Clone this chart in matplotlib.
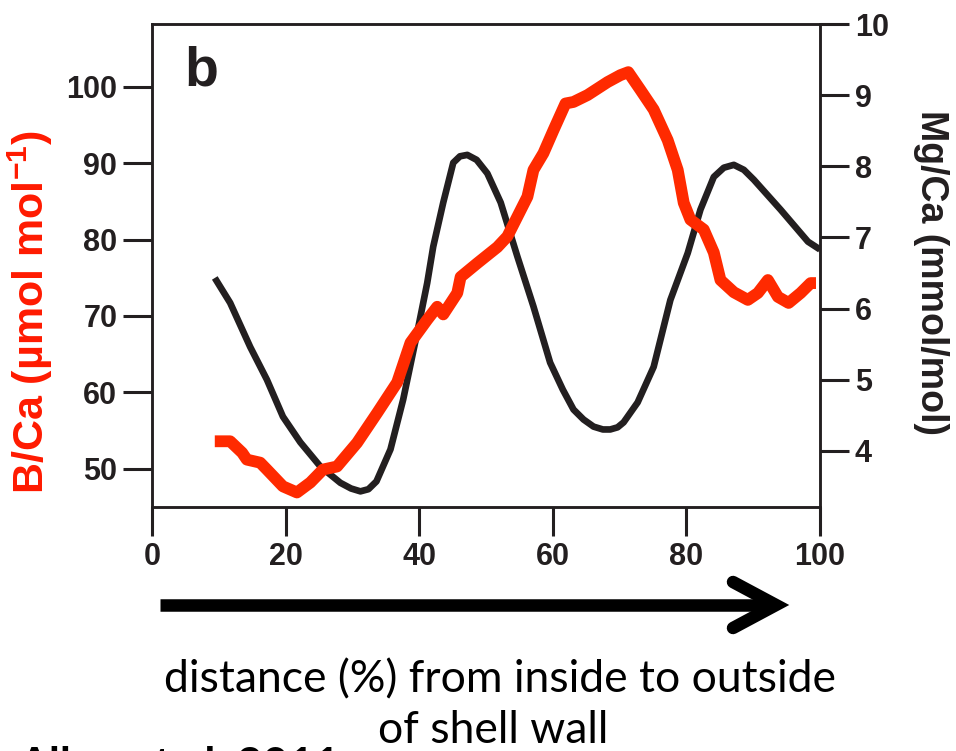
import numpy as np
import matplotlib
matplotlib.use('Agg')
import matplotlib.pyplot as plt
from matplotlib.lines import Line2D

plt.rcParams['font.family'] = ['Liberation Sans', 'DejaVu Sans']
plt.rcParams['mathtext.fontset'] = 'custom'
plt.rcParams['mathtext.rm'] = 'Liberation Sans:bold'
plt.rcParams['mathtext.bf'] = 'Liberation Sans:bold'

# Mg/Ca (right axis), black curve
mg_x = [9.4, 11.7, 14.7, 17.2, 19.6, 22.2, 25.2, 28.2, 29.8, 31.2, 32.4, 33.6,
        35.7, 37.6, 39.7, 41.2, 42.1, 43.6, 45.1, 46.1, 47.2, 48.6, 50.2, 52.2,
        54.7, 57.1, 59.6, 61.5, 63.1, 64.6, 66.1, 67.5, 68.6, 69.7, 70.6, 72.7,
        75.1, 77.6, 80.2, 82.1, 84.1, 85.6, 87.1, 88.6, 90.1, 94.1, 98.2, 100.0]
mg_y = [6.43, 6.08, 5.46, 5.00, 4.48, 4.12, 3.78, 3.55, 3.47, 3.43, 3.46, 3.57,
        4.02, 4.72, 5.66, 6.36, 6.87, 7.49, 8.05, 8.14, 8.16, 8.09, 7.90, 7.49,
        6.73, 6.03, 5.24, 4.86, 4.58, 4.44, 4.34, 4.30, 4.30, 4.33, 4.40, 4.68,
        5.18, 6.12, 6.78, 7.39, 7.85, 7.98, 8.02, 7.95, 7.81, 7.39, 6.94, 6.83]

# B/Ca (left axis), red curve
b_x = [9.4, 11.7, 13.5, 14.2, 16.2, 17.2, 19.6, 21.7, 23.7, 25.6, 27.7, 30.7,
       33.7, 36.7, 38.7, 41.2, 42.7, 43.6, 45.7, 46.2, 48.7, 51.7, 53.2, 54.7,
       56.2, 57.1, 58.6, 60.1, 61.9, 63.1, 65.2, 68.2, 70.1, 71.3, 73.1, 75.1,
       77.2, 78.7, 79.6, 80.6, 82.6, 84.1, 85.1, 87.1, 89.2, 90.7, 92.2, 93.7,
       95.3, 97.1, 98.6, 99.4]
b_y = [53.6, 53.6, 52.1, 51.2, 50.8, 49.9, 47.7, 46.9, 48.2, 49.9, 50.3, 53.4,
       57.3, 61.3, 66.5, 69.5, 71.2, 70.2, 73.0, 75.1, 76.9, 79.0, 80.4, 83.0,
       85.6, 89.1, 91.3, 94.3, 97.8, 98.0, 98.9, 100.6, 101.5, 101.9, 99.6, 97.0,
       93.0, 89.1, 84.8, 82.6, 81.3, 78.3, 74.7, 73.1, 72.1, 73.0, 74.7, 72.5,
       71.7, 73.0, 74.3, 74.3]

x_ticks = [0, 20, 40, 60, 80, 100]
b_ticks = [50, 60, 70, 80, 90, 100]
mg_ticks = [4, 5, 6, 7, 8, 9, 10]

dark = '#231f20'
red = '#ff2a00'

fig = plt.figure(figsize=(9.56, 7.51), dpi=100)
ax = fig.add_axes([152/956, 1-507/751, 668/956, 483/751])
ax2 = ax.twinx()

ax2.plot(mg_x, mg_y, color=dark, lw=4.8, solid_capstyle='butt',
         solid_joinstyle='round', zorder=2)
ax.plot(b_x, b_y, color=red, lw=8.5, solid_capstyle='butt',
        solid_joinstyle='round', zorder=3)
ax.set_zorder(ax2.get_zorder() + 1)
ax.patch.set_visible(False)

ax.set_xlim(0, 100)
ax.set_ylim(45, 108.2)
ax2.set_ylim(3.21, 10)
ax.set_xticks(x_ticks)
ax.set_yticks(b_ticks)
ax2.set_yticks(mg_ticks)

for a in (ax, ax2):
    for s in a.spines.values():
        s.set_linewidth(1.8)
        s.set_color(dark)
    a.tick_params(length=21, width=2.2, color=dark, labelcolor=dark,
                  labelsize=22, pad=4)
for lab in ax.get_xticklabels() + ax.get_yticklabels() + ax2.get_yticklabels():
    lab.set_fontweight('bold')

W, H = 956, 751
def fx(p): return p / W
def fy(p): return 1 - p / H

fig.text(fx(30), fy(312), 'B/Ca (µmol mol$^{-1}$)', color='#ff1a00',
         fontsize=31, fontweight='bold', rotation=90, ha='center', va='center')
fig.text(fx(931), fy(272), 'Mg/Ca (mmol/mol)', color=dark, fontsize=27,
         fontweight='bold', rotation=-90, ha='center', va='center')

ax.text(0.048, 0.955, 'b', transform=ax.transAxes, fontsize=40,
        fontweight='bold', color=dark, va='top', ha='left')

# arrow below the axis
fig.add_artist(Line2D([fx(160), fx(770)], [fy(605), fy(605)], color='black',
                      lw=9, solid_capstyle='butt'))
fig.add_artist(Line2D([fx(733), fx(776), fx(733)], [fy(582), fy(605), fy(628)],
                      color='black', lw=9, solid_capstyle='round',
                      solid_joinstyle='miter'))

fig.text(fx(500), fy(692), 'distance (%) from inside to outside',
         ha='center', va='baseline', fontsize=32, family='Lato', color='black')
fig.text(fx(493), fy(743), 'of shell wall',
         ha='center', va='baseline', fontsize=32, family='Lato', color='black')
fig.text(fx(18), fy(746), 'Allen et al. 2011', ha='left', va='top',
         fontsize=32, family='Lato', fontweight='bold', color='black')

fig.savefig('out.png', dpi=100)
